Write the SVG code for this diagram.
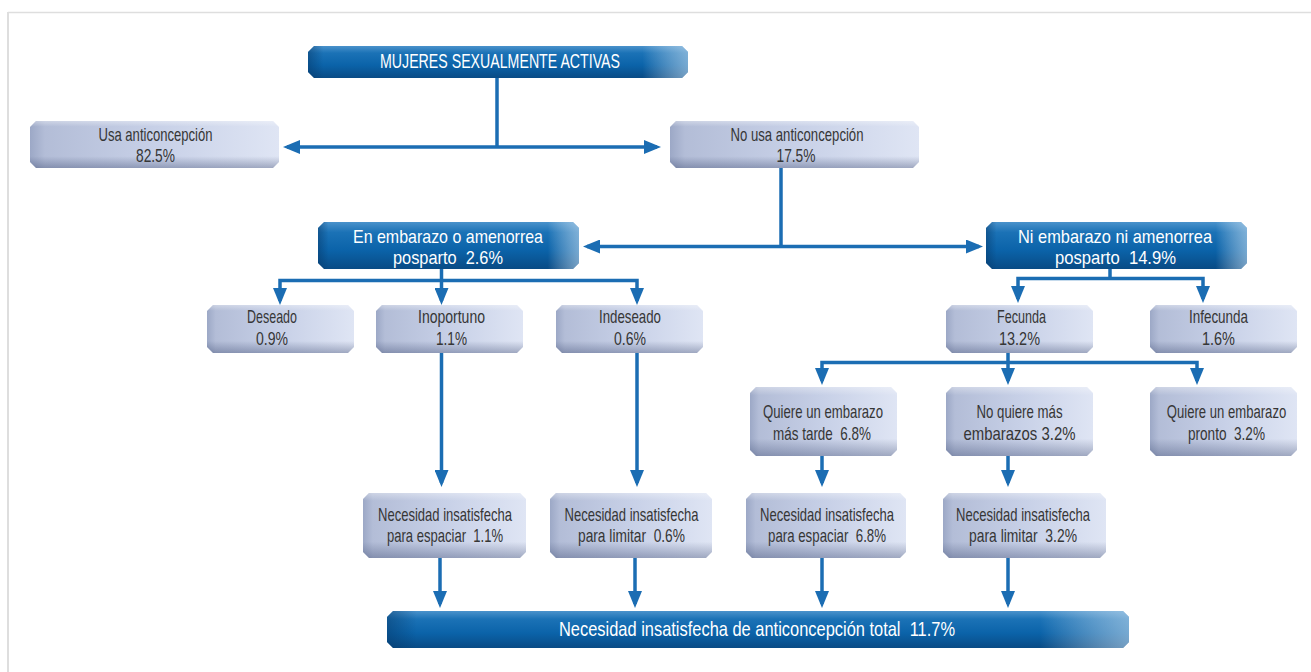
<svg xmlns="http://www.w3.org/2000/svg" width="1311" height="672" viewBox="0 0 1311 672">
<style>
.lb{fill:url(#lbh)}
.lo{fill:url(#lbv)}
.db{fill:url(#dbv)}
.do{fill:url(#dbh)}
text{font-family:"Liberation Sans",Arial,sans-serif;text-anchor:middle}
.lt{font-size:19px;fill:#363636}
.dt{font-size:21px;fill:#ffffff}
.dt2{font-size:18.5px;fill:#ffffff}
.c{fill:none;stroke:#1b6db3;stroke-width:3.5}
.a{marker-end:url(#ah)}
.aa{marker-start:url(#ah);marker-end:url(#ah)}
</style>
<defs>
<linearGradient id="lbh" x1="0" y1="0" x2="1" y2="0">
<stop offset="0" stop-color="#9ca8c6"/>
<stop offset="0.06" stop-color="#b3bdd7"/>
<stop offset="0.5" stop-color="#c7d0e7"/>
<stop offset="1" stop-color="#dfe5f4"/>
</linearGradient>
<linearGradient id="lbv" x1="0" y1="0" x2="0" y2="1">
<stop offset="0" stop-color="#ffffff" stop-opacity="0.35"/>
<stop offset="0.12" stop-color="#ffffff" stop-opacity="0"/>
<stop offset="0.75" stop-color="#2c3a63" stop-opacity="0"/>
<stop offset="1" stop-color="#2c3a63" stop-opacity="0.35"/>
</linearGradient>
<linearGradient id="dbv" x1="0" y1="0" x2="0" y2="1">
<stop offset="0" stop-color="#4a92cb"/>
<stop offset="0.22" stop-color="#1b72b6"/>
<stop offset="0.6" stop-color="#0b63a9"/>
<stop offset="1" stop-color="#094b85"/>
</linearGradient>
<linearGradient id="dbh" x1="0" y1="0" x2="1" y2="0">
<stop offset="0" stop-color="#06396a" stop-opacity="0.5"/>
<stop offset="0.04" stop-color="#06396a" stop-opacity="0"/>
<stop offset="0.88" stop-color="#ffffff" stop-opacity="0"/>
<stop offset="1" stop-color="#cfe3f3" stop-opacity="0.55"/>
</linearGradient>
<marker id="ah" viewBox="0 0 17 14" refX="13" refY="7" markerWidth="17" markerHeight="14" markerUnits="userSpaceOnUse" orient="auto-start-reverse">
<path d="M0,0 L17,7 L0,14 Z" fill="#1b6db3"/>
</marker>
</defs>

<g id="frame" fill="none" stroke="#dedede">
<path d="M8,12.5 H1311" stroke-width="1.5"/>
<path d="M8,12 V672" stroke-width="2"/>
</g>

<g id="connectors">
<path class="c" d="M497,78 V147"/>
<path class="c aa" d="M287,147 H657"/>
<path class="c" d="M781,168 V246.5"/>
<path class="c aa" d="M587,246.5 H979"/>
<path class="c" d="M441.5,269 V280.5"/>
<path class="c aa" d="M280,301 V280.5 H637 V301"/>
<path class="c a" d="M441.5,280.5 V301"/>
<path class="c" d="M1110,269 V278.5"/>
<path class="c aa" d="M1018,299 V278.5 H1203 V299"/>
<path class="c" d="M1008,353 V362.5"/>
<path class="c aa" d="M822,381 V362.5 H1197 V381"/>
<path class="c a" d="M1008,362.5 V381"/>
<path class="c a" d="M441.5,353 V483"/>
<path class="c a" d="M637,353 V483"/>
<path class="c a" d="M822,456 V483"/>
<path class="c a" d="M1008,456 V483"/>
<path class="c a" d="M440,558 V604"/>
<path class="c a" d="M635,558 V604"/>
<path class="c a" d="M822,558 V604"/>
<path class="c a" d="M1008,558 V604"/>
</g>

<g id="n-mujeres">
<path class="db" d="M314,46 H682 L688,52 V72 L682,78 H314 L308,72 V52 Z"/>
<path class="do" d="M314,46 H682 L688,52 V72 L682,78 H314 L308,72 V52 Z"/>
<text class="dt" x="500" y="68" textLength="240" lengthAdjust="spacingAndGlyphs">MUJERES SEXUALMENTE ACTIVAS</text>
</g>

<g id="n-usa">
<path class="lb" d="M36,121 H273 L279,127 V162 L273,168 H36 L30,162 V127 Z"/>
<path class="lo" d="M36,121 H273 L279,127 V162 L273,168 H36 L30,162 V127 Z"/>
<text class="lt" x="155.5" y="141" textLength="114" lengthAdjust="spacingAndGlyphs">Usa anticoncepción</text>
<text class="lt" x="155.5" y="162" textLength="39" lengthAdjust="spacingAndGlyphs">82.5%</text>
</g>

<g id="n-nousa">
<path class="lb" d="M676,121 H913 L919,127 V162 L913,168 H676 L670,162 V127 Z"/>
<path class="lo" d="M676,121 H913 L919,127 V162 L913,168 H676 L670,162 V127 Z"/>
<text class="lt" x="797" y="141" textLength="133" lengthAdjust="spacingAndGlyphs">No usa anticoncepción</text>
<text class="lt" x="796" y="162" textLength="39" lengthAdjust="spacingAndGlyphs">17.5%</text>
</g>

<g id="n-embarazo">
<path class="db" d="M324,222 H573 L579,228 V263 L573,269 H324 L318,263 V228 Z"/>
<path class="do" d="M324,222 H573 L579,228 V263 L573,269 H324 L318,263 V228 Z"/>
<text class="dt2" x="448" y="243" textLength="190" lengthAdjust="spacingAndGlyphs">En embarazo o amenorrea</text>
<text class="dt2" x="448" y="264" textLength="110" lengthAdjust="spacingAndGlyphs">posparto&#160; 2.6%</text>
</g>

<g id="n-niembarazo">
<path class="db" d="M992,222 H1241 L1247,228 V263 L1241,269 H992 L986,263 V228 Z"/>
<path class="do" d="M992,222 H1241 L1247,228 V263 L1241,269 H992 L986,263 V228 Z"/>
<text class="dt2" x="1115" y="243" textLength="194" lengthAdjust="spacingAndGlyphs">Ni embarazo ni amenorrea</text>
<text class="dt2" x="1115.5" y="264" textLength="121" lengthAdjust="spacingAndGlyphs">posparto&#160; 14.9%</text>
</g>

<g id="n-deseado">
<path class="lb" d="M213,305 H348 L354,311 V347 L348,353 H213 L207,347 V311 Z"/>
<path class="lo" d="M213,305 H348 L354,311 V347 L348,353 H213 L207,347 V311 Z"/>
<text class="lt" x="272" y="323" textLength="50" lengthAdjust="spacingAndGlyphs">Deseado</text>
<text class="lt" x="272" y="345" textLength="32" lengthAdjust="spacingAndGlyphs">0.9%</text>
</g>

<g id="n-inoportuno">
<path class="lb" d="M382,305 H517 L523,311 V347 L517,353 H382 L376,347 V311 Z"/>
<path class="lo" d="M382,305 H517 L523,311 V347 L517,353 H382 L376,347 V311 Z"/>
<text class="lt" x="451.5" y="323" textLength="67" lengthAdjust="spacingAndGlyphs">Inoportuno</text>
<text class="lt" x="451.5" y="345" textLength="31" lengthAdjust="spacingAndGlyphs">1.1%</text>
</g>

<g id="n-indeseado">
<path class="lb" d="M562,305 H697 L703,311 V347 L697,353 H562 L556,347 V311 Z"/>
<path class="lo" d="M562,305 H697 L703,311 V347 L697,353 H562 L556,347 V311 Z"/>
<text class="lt" x="630" y="323" textLength="62" lengthAdjust="spacingAndGlyphs">Indeseado</text>
<text class="lt" x="630" y="345" textLength="32" lengthAdjust="spacingAndGlyphs">0.6%</text>
</g>

<g id="n-fecunda">
<path class="lb" d="M952,305 H1087 L1093,311 V347 L1087,353 H952 L946,347 V311 Z"/>
<path class="lo" d="M952,305 H1087 L1093,311 V347 L1087,353 H952 L946,347 V311 Z"/>
<text class="lt" x="1021.5" y="323" textLength="49" lengthAdjust="spacingAndGlyphs">Fecunda</text>
<text class="lt" x="1019.5" y="345" textLength="41" lengthAdjust="spacingAndGlyphs">13.2%</text>
</g>

<g id="n-infecunda">
<path class="lb" d="M1156,305 H1291 L1297,311 V347 L1291,353 H1156 L1150,347 V311 Z"/>
<path class="lo" d="M1156,305 H1291 L1297,311 V347 L1291,353 H1156 L1150,347 V311 Z"/>
<text class="lt" x="1218.5" y="323" textLength="59" lengthAdjust="spacingAndGlyphs">Infecunda</text>
<text class="lt" x="1218.5" y="345" textLength="33" lengthAdjust="spacingAndGlyphs">1.6%</text>
</g>

<g id="n-tarde">
<path class="lb" d="M756,387 H891 L897,393 V450 L891,456 H756 L750,450 V393 Z"/>
<path class="lo" d="M756,387 H891 L897,393 V450 L891,456 H756 L750,450 V393 Z"/>
<text class="lt" x="823" y="418" textLength="120" lengthAdjust="spacingAndGlyphs">Quiere un embarazo</text>
<text class="lt" x="822" y="440" textLength="98" lengthAdjust="spacingAndGlyphs">más tarde&#160; 6.8%</text>
</g>

<g id="n-noquiere">
<path class="lb" d="M952,387 H1087 L1093,393 V450 L1087,456 H952 L946,450 V393 Z"/>
<path class="lo" d="M952,387 H1087 L1093,393 V450 L1087,456 H952 L946,450 V393 Z"/>
<text class="lt" x="1019.5" y="418" textLength="86" lengthAdjust="spacingAndGlyphs">No quiere más</text>
<text class="lt" x="1019.5" y="440" textLength="112" lengthAdjust="spacingAndGlyphs">embarazos 3.2%</text>
</g>

<g id="n-pronto">
<path class="lb" d="M1156,387 H1291 L1297,393 V450 L1291,456 H1156 L1150,450 V393 Z"/>
<path class="lo" d="M1156,387 H1291 L1297,393 V450 L1291,456 H1156 L1150,450 V393 Z"/>
<text class="lt" x="0" y="0" transform="translate(1226.5,418) scale(0.69,1)">Quiere un embarazo</text>
<text class="lt" x="1226.5" y="440" textLength="77" lengthAdjust="spacingAndGlyphs">pronto&#160; 3.2%</text>
</g>

<g id="n-espaciar1">
<path class="lb" d="M369,493 H520 L526,499 V552 L520,558 H369 L363,552 V499 Z"/>
<path class="lo" d="M369,493 H520 L526,499 V552 L520,558 H369 L363,552 V499 Z"/>
<text class="lt" x="445" y="521" textLength="134" lengthAdjust="spacingAndGlyphs">Necesidad insatisfecha</text>
<text class="lt" x="445" y="542" textLength="116" lengthAdjust="spacingAndGlyphs">para espaciar&#160; 1.1%</text>
</g>

<g id="n-limitar1">
<path class="lb" d="M556,493 H706 L712,499 V552 L706,558 H556 L550,552 V499 Z"/>
<path class="lo" d="M556,493 H706 L712,499 V552 L706,558 H556 L550,552 V499 Z"/>
<text class="lt" x="631.5" y="521" textLength="134" lengthAdjust="spacingAndGlyphs">Necesidad insatisfecha</text>
<text class="lt" x="631.5" y="542" textLength="107" lengthAdjust="spacingAndGlyphs">para limitar&#160; 0.6%</text>
</g>

<g id="n-espaciar2">
<path class="lb" d="M752,493 H900 L906,499 V552 L900,558 H752 L746,552 V499 Z"/>
<path class="lo" d="M752,493 H900 L906,499 V552 L900,558 H752 L746,552 V499 Z"/>
<text class="lt" x="827" y="521" textLength="134" lengthAdjust="spacingAndGlyphs">Necesidad insatisfecha</text>
<text class="lt" x="827" y="542" textLength="118" lengthAdjust="spacingAndGlyphs">para espaciar&#160; 6.8%</text>
</g>

<g id="n-limitar2">
<path class="lb" d="M949,493 H1100 L1106,499 V552 L1100,558 H949 L943,552 V499 Z"/>
<path class="lo" d="M949,493 H1100 L1106,499 V552 L1100,558 H949 L943,552 V499 Z"/>
<text class="lt" x="1023" y="521" textLength="134" lengthAdjust="spacingAndGlyphs">Necesidad insatisfecha</text>
<text class="lt" x="1023" y="542" textLength="108" lengthAdjust="spacingAndGlyphs">para limitar&#160; 3.2%</text>
</g>

<g id="n-total">
<path class="db" d="M393,611 H1123 L1129,617 V642 L1123,648 H393 L387,642 V617 Z"/>
<path class="do" d="M393,611 H1123 L1129,617 V642 L1123,648 H393 L387,642 V617 Z"/>
<text class="dt" x="757" y="636" textLength="396" lengthAdjust="spacingAndGlyphs">Necesidad insatisfecha de anticoncepción total&#160; 11.7%</text>
</g>
</svg>
